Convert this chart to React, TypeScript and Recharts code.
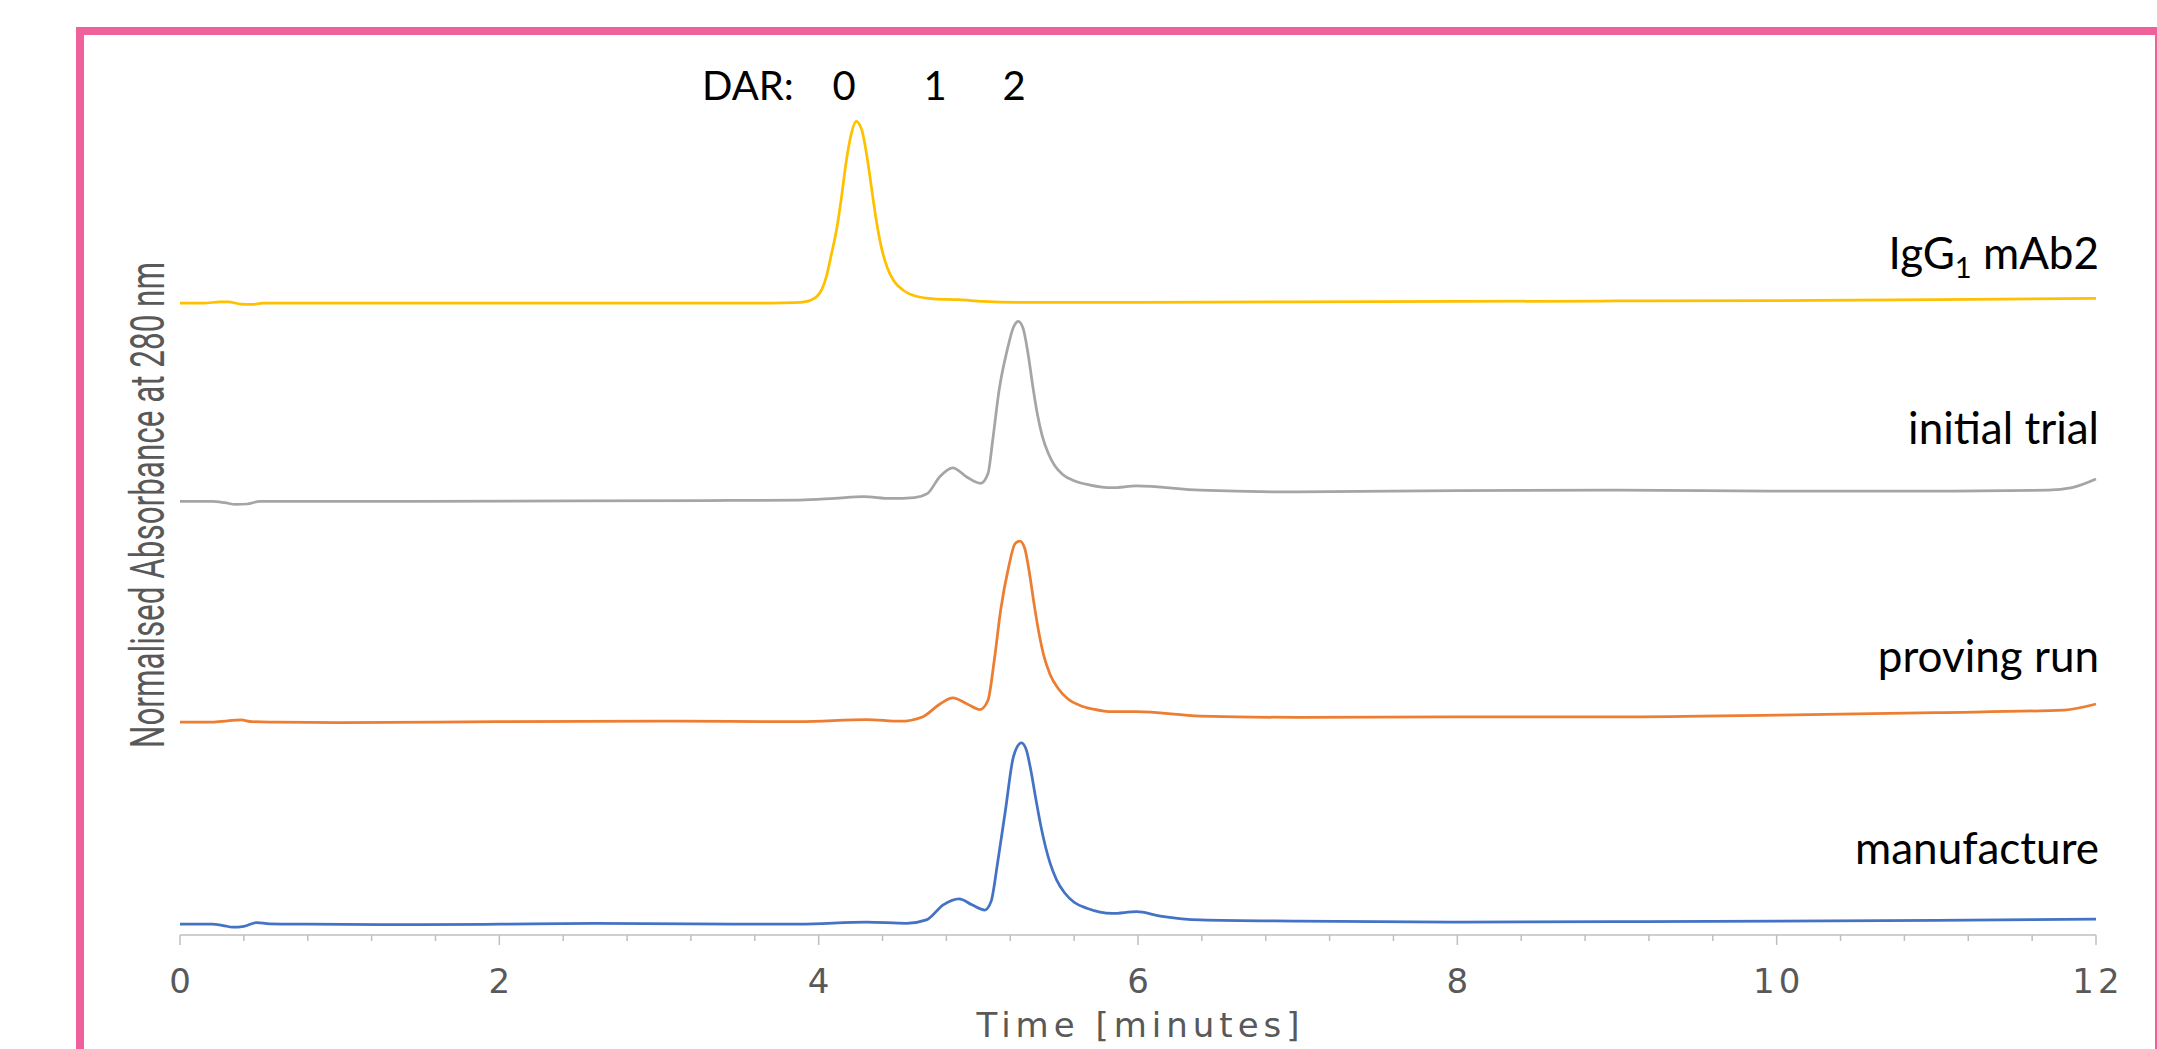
import { Line, LineChart, XAxis, YAxis } from "recharts";

type TracePoint = { t: number; v: number };

// time in minutes, v = normalised absorbance with the stacking offset already applied
const igg1Trace: TracePoint[] = [
  { t: 0, v: 73.3 }, { t: 0.15, v: 73.3 }, { t: 0.25, v: 73.45 }, { t: 0.3, v: 73.45 },
  { t: 0.38, v: 73.2 }, { t: 0.45, v: 73.15 }, { t: 0.52, v: 73.3 }, { t: 0.8, v: 73.3 },
  { t: 1.5, v: 73.3 }, { t: 2.5, v: 73.3 }, { t: 3.2, v: 73.3 }, { t: 3.7, v: 73.3 },
  { t: 3.85, v: 73.35 }, { t: 3.91, v: 73.45 }, { t: 3.95, v: 73.65 }, { t: 3.99, v: 74.1 },
  { t: 4.02, v: 74.9 }, { t: 4.05, v: 76.5 }, { t: 4.08, v: 79.0 }, { t: 4.11, v: 81.6 },
  { t: 4.14, v: 85.2 }, { t: 4.17, v: 89.4 }, { t: 4.2, v: 92.6 }, { t: 4.235, v: 94.4 },
  { t: 4.27, v: 93.4 }, { t: 4.3, v: 90.6 }, { t: 4.33, v: 86.8 }, { t: 4.36, v: 83.0 },
  { t: 4.39, v: 80.0 }, { t: 4.43, v: 77.4 }, { t: 4.47, v: 75.9 }, { t: 4.53, v: 74.8 },
  { t: 4.61, v: 74.1 }, { t: 4.72, v: 73.8 }, { t: 4.88, v: 73.7 }, { t: 5.03, v: 73.5 },
  { t: 5.25, v: 73.4 }, { t: 6, v: 73.4 }, { t: 7, v: 73.45 }, { t: 8, v: 73.5 },
  { t: 9, v: 73.55 }, { t: 10, v: 73.6 }, { t: 11, v: 73.7 }, { t: 12, v: 73.85 },
];

const initialTrialTrace: TracePoint[] = [
  { t: 0, v: 50.3 }, { t: 0.2, v: 50.3 }, { t: 0.28, v: 50.15 }, { t: 0.35, v: 49.95 },
  { t: 0.42, v: 50.0 }, { t: 0.5, v: 50.3 }, { t: 0.7, v: 50.3 }, { t: 1.5, v: 50.3 },
  { t: 2.5, v: 50.35 }, { t: 3.3, v: 50.4 }, { t: 3.88, v: 50.45 }, { t: 4.1, v: 50.65 },
  { t: 4.28, v: 50.85 }, { t: 4.45, v: 50.65 }, { t: 4.6, v: 50.75 }, { t: 4.68, v: 51.2 },
  { t: 4.76, v: 53.2 }, { t: 4.84, v: 54.2 }, { t: 4.93, v: 53.1 }, { t: 5.015, v: 52.4 },
  { t: 5.06, v: 53.5 }, { t: 5.09, v: 57.4 }, { t: 5.13, v: 63.2 }, { t: 5.18, v: 67.8 },
  { t: 5.22, v: 70.5 }, { t: 5.25, v: 71.2 }, { t: 5.28, v: 70.4 }, { t: 5.31, v: 67.6 },
  { t: 5.34, v: 63.8 }, { t: 5.37, v: 60.4 }, { t: 5.4, v: 57.9 }, { t: 5.44, v: 55.8 },
  { t: 5.48, v: 54.4 }, { t: 5.53, v: 53.4 }, { t: 5.6, v: 52.7 }, { t: 5.7, v: 52.2 },
  { t: 5.84, v: 51.9 }, { t: 5.99, v: 52.1 }, { t: 6.39, v: 51.6 }, { t: 7, v: 51.4 },
  { t: 8, v: 51.55 }, { t: 9, v: 51.6 }, { t: 10, v: 51.5 }, { t: 11, v: 51.5 },
  { t: 11.7, v: 51.6 }, { t: 11.85, v: 51.9 }, { t: 12, v: 52.9 },
];

const provingRunTrace: TracePoint[] = [
  { t: 0, v: 24.7 }, { t: 0.2, v: 24.7 }, { t: 0.3, v: 24.85 }, { t: 0.38, v: 24.95 },
  { t: 0.45, v: 24.75 }, { t: 0.6, v: 24.7 }, { t: 1, v: 24.65 }, { t: 2, v: 24.75 },
  { t: 3, v: 24.8 }, { t: 3.88, v: 24.75 }, { t: 4.3, v: 25.0 }, { t: 4.51, v: 24.8 },
  { t: 4.65, v: 25.3 }, { t: 4.76, v: 26.8 }, { t: 4.84, v: 27.5 }, { t: 4.93, v: 26.8 },
  { t: 5.01, v: 26.15 }, { t: 5.06, v: 27.2 }, { t: 5.1, v: 31.9 }, { t: 5.14, v: 37.7 },
  { t: 5.19, v: 42.7 }, { t: 5.23, v: 45.4 }, { t: 5.26, v: 45.7 }, { t: 5.29, v: 44.9 },
  { t: 5.32, v: 42.0 }, { t: 5.35, v: 38.3 }, { t: 5.38, v: 35.0 }, { t: 5.41, v: 32.4 },
  { t: 5.45, v: 30.2 }, { t: 5.5, v: 28.6 }, { t: 5.56, v: 27.4 }, { t: 5.64, v: 26.6 },
  { t: 5.72, v: 26.2 }, { t: 5.84, v: 25.9 }, { t: 5.99, v: 25.9 }, { t: 6.39, v: 25.4 },
  { t: 7, v: 25.25 }, { t: 8, v: 25.3 }, { t: 9, v: 25.3 }, { t: 10, v: 25.5 },
  { t: 11, v: 25.8 }, { t: 11.8, v: 26.1 }, { t: 12, v: 26.8 },
];

const manufactureTrace: TracePoint[] = [
  { t: 0, v: 1.25 }, { t: 0.2, v: 1.25 }, { t: 0.27, v: 1.1 }, { t: 0.33, v: 0.9 },
  { t: 0.4, v: 1.0 }, { t: 0.48, v: 1.45 }, { t: 0.56, v: 1.3 }, { t: 0.8, v: 1.25 },
  { t: 1.5, v: 1.2 }, { t: 2, v: 1.25 }, { t: 2.6, v: 1.35 }, { t: 3.2, v: 1.3 },
  { t: 3.88, v: 1.25 }, { t: 4.3, v: 1.5 }, { t: 4.55, v: 1.35 }, { t: 4.675, v: 1.75 },
  { t: 4.78, v: 3.5 }, { t: 4.88, v: 4.2 }, { t: 4.96, v: 3.5 }, { t: 5.04, v: 2.9 },
  { t: 5.08, v: 3.9 }, { t: 5.12, v: 8.3 }, { t: 5.17, v: 14.5 }, { t: 5.22, v: 20.7 },
  { t: 5.27, v: 22.3 }, { t: 5.3, v: 21.5 }, { t: 5.33, v: 19.0 }, { t: 5.36, v: 15.8 },
  { t: 5.39, v: 12.8 }, { t: 5.42, v: 10.3 }, { t: 5.45, v: 8.3 }, { t: 5.49, v: 6.4 },
  { t: 5.54, v: 4.9 }, { t: 5.6, v: 3.8 }, { t: 5.68, v: 3.1 }, { t: 5.84, v: 2.5 },
  { t: 5.99, v: 2.7 }, { t: 6.14, v: 2.2 }, { t: 6.39, v: 1.75 }, { t: 7, v: 1.6 },
  { t: 8, v: 1.5 }, { t: 9, v: 1.55 }, { t: 10, v: 1.6 }, { t: 11, v: 1.7 },
  { t: 12, v: 1.85 },
];

const timeTicks = [
  0, 0.4, 0.8, 1.2, 1.6, 2, 2.4, 2.8, 3.2, 3.6, 4, 4.4, 4.8, 5.2, 5.6, 6,
  6.4, 6.8, 7.2, 7.6, 8, 8.4, 8.8, 9.2, 9.6, 10, 10.4, 10.8, 11.2, 11.6, 12,
];
const labelledTicks = [0, 2, 4, 6, 8, 10, 12];

const darNumbers = ["0", "1", "2"];

const W = 2157;
const H = 1049;
const labelFont = "Lato, 'Open Sans', sans-serif";
const axisFont = "'DejaVu Sans', Verdana, sans-serif";

const TimeTick = (props: any) => {
  const { x, y, payload } = props;
  const major = labelledTicks.includes(payload.value);
  return (
    <g>
      <line x1={x} x2={x} y1={y} y2={y + (major ? 10 : 6)} stroke="#BFBFBF" strokeWidth={1.5} />
      {major && (
        <text
          x={x + 2}
          y={y + 58}
          textAnchor="middle"
          fill="#595959"
          fontSize={34}
          fontFamily={axisFont}
          letterSpacing={4}
        >
          {payload.value}
        </text>
      )}
    </g>
  );
};

const TimeTitle = (props: any) => {
  const { viewBox } = props;
  const cx = viewBox.x + viewBox.width / 2;
  return (
    <text
      x={cx + 2.5}
      y={viewBox.y + 102}
      textAnchor="middle"
      fill="#595959"
      fontSize={34}
      fontFamily={axisFont}
      letterSpacing={5}
    >
      Time [minutes]
    </text>
  );
};

export default function App() {
  return (
    <div
      style={{
        position: "absolute",
        left: 0,
        top: 0,
        width: W,
        height: H,
        overflow: "hidden",
        background: "#ffffff",
      }}
    >
      <div
        style={{
          position: "absolute",
          left: 76,
          top: 27,
          width: 2087,
          height: 1100,
          boxSizing: "border-box",
          border: "8px solid #F0609A",
        }}
      />
      <div style={{ position: "absolute", left: 0, top: 0 }}>
        <LineChart width={W} height={H} margin={{ top: 73, right: 61, bottom: 0, left: 180 }}>
          <XAxis
            dataKey="t"
            type="number"
            domain={[0, 12]}
            ticks={timeTicks}
            interval={0}
            height={114}
            tickSize={0}
            tickMargin={0}
            tickLine={false}
            tick={<TimeTick />}
            axisLine={{ stroke: "#BFBFBF", strokeWidth: 1.5 }}
            label={<TimeTitle />}
          />
          <YAxis
            type="number"
            domain={[0, 100]}
            width={0}
            tick={false}
            tickLine={false}
            axisLine={{ stroke: "#BFBFBF", strokeWidth: 1.5 }}
          />
          <Line data={igg1Trace} dataKey="v" type="monotone" stroke="#FFC000" strokeWidth={2.75} dot={false} activeDot={false} isAnimationActive={false} />
          <Line data={initialTrialTrace} dataKey="v" type="monotone" stroke="#A5A5A5" strokeWidth={2.75} dot={false} activeDot={false} isAnimationActive={false} />
          <Line data={provingRunTrace} dataKey="v" type="monotone" stroke="#ED7D31" strokeWidth={2.75} dot={false} activeDot={false} isAnimationActive={false} />
          <Line data={manufactureTrace} dataKey="v" type="monotone" stroke="#4472C4" strokeWidth={2.75} dot={false} activeDot={false} isAnimationActive={false} />
        </LineChart>
      </div>
      <svg
        width={W}
        height={H}
        style={{ position: "absolute", left: 0, top: 0, pointerEvents: "none" }}
      >
        <text
          transform="translate(164, 505) rotate(-90)"
          textAnchor="middle"
          fill="#595959"
          fontSize={48}
          fontFamily="Roboto, sans-serif"
          textLength={486}
          lengthAdjust="spacingAndGlyphs"
        >
          Normalised Absorbance at 280 nm
        </text>

        <g fontFamily={labelFont} fontSize={40} fill="#000000">
          <text x={702} y={100}>DAR:</text>
          <text x={844} y={100} textAnchor="middle">{darNumbers[0]}</text>
          <text x={935} y={100} textAnchor="middle">{darNumbers[1]}</text>
          <text x={1014} y={100} textAnchor="middle">{darNumbers[2]}</text>
        </g>

        <g fontFamily={labelFont} fontSize={44} fill="#000000">
          <text x={2099} y={269} textAnchor="end">
            IgG
            <tspan fontSize={29} dy={9}>1</tspan>
            <tspan dy={-9}> mAb2</tspan>
          </text>
          <text x={2099} y={444} textAnchor="end">initial trial</text>
          <text x={2099} y={672} textAnchor="end">proving run</text>
          <text x={2099} y={864} textAnchor="end">manufacture</text>
        </g>
      </svg>
    </div>
  );
}
